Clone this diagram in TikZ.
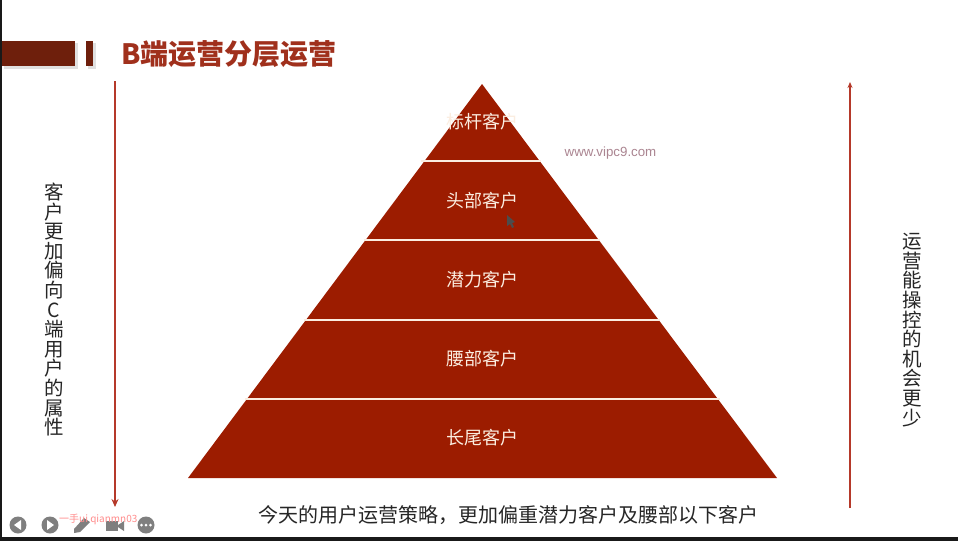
\documentclass[tikz,border=0pt]{standalone}
\usepackage{fontspec}
\setmainfont{Noto Sans CJK SC}
\newfontfamily\latinf{Liberation Sans}
\definecolor{pyr}{HTML}{9C1C00}
\definecolor{barc}{HTML}{6E1F0C}
\definecolor{titlec}{HTML}{A0301C}
\definecolor{arrc}{HTML}{B5392A}
\definecolor{band}{HTML}{FBEDE0}
\definecolor{icon}{HTML}{7F7F7F}
\usetikzlibrary{arrows.meta}
\tikzset{
  lvl/.style={text=band,font=\fontsize{18}{20}\selectfont,inner sep=0pt},
  sep/.style={band,line width=2pt},
  side/.style={text=black!85,font=\fontsize{19.5}{19.6}\selectfont,align=center,inner sep=0pt},
  longarrow/.style={arrc,line width=1.4pt,-{Stealth[length=8pt,width=7pt]}},
  shortarrow/.style={arrc,line width=1.4pt,-{Stealth[length=6pt,width=5pt]}},
  ico/.style={circle,fill=icon,minimum size=17pt,inner sep=0pt},
}
\begin{document}
\begin{tikzpicture}[x=1pt,y=-1pt]
\useasboundingbox (0,0) rectangle (958,541);
\fill[white] (0,0) rectangle (958,541);
\fill[black!90] (0,0) rectangle (2,541);
\fill[black!90] (0,537) rectangle (958,541);
% header
\fill[black!12] (4,43) rectangle (78,69);
\fill[black!12] (88,43) rectangle (96,69);
\fill[barc] (2,41) rectangle (75,66);
\fill[barc] (86,41) rectangle (93,66);
\node[text=titlec,font=\fontsize{28}{32}\selectfont\bfseries,anchor=west,inner sep=0pt] (title) at (121,54.5) {B端运营分层运营};
% pyramid
\fill[pyr] (482,84) -- (777,478) -- (188,478) -- cycle;
\coordinate (l1) at (421,161); \coordinate (r1) at (541,161);
\coordinate (l2) at (364,240); \coordinate (r2) at (600,240);
\coordinate (l3) at (304,320); \coordinate (r3) at (660,320);
\coordinate (l4) at (245,399); \coordinate (r4) at (720,399);
\draw[sep] (l1) -- (r1);
\draw[sep] (l2) -- (r2);
\draw[sep] (l3) -- (r3);
\draw[sep] (l4) -- (r4);
\node[lvl] (a) at (482,121.5) {标杆客户};
\node[lvl] (b) at (482,200.5) {头部客户};
\node[lvl] (c) at (482,279.5) {潜力客户};
\node[lvl] (d) at (482,358.5) {腰部客户};
\node[lvl] (e) at (482,437.5) {长尾客户};
% arrows
\coordinate (lt) at (115,81); \coordinate (lb) at (115,507);
\coordinate (rb) at (850,508); \coordinate (rt) at (850,82);
\draw[longarrow] (lt) -- (lb);
\draw[shortarrow] (rb) -- (rt);
\node[side] (ltext) at (54,309.5) {客\\户\\更\\加\\偏\\向\\C\\端\\用\\户\\的\\属\\性};
\node[side] (rtext) at (912,330) {运\\营\\能\\操\\控\\的\\机\\会\\更\\少};
\node[text=black!85,font=\fontsize{20}{24}\selectfont,inner sep=0pt] (cap) at (508,515.5) {今天的用户运营策略，更加偏重潜力客户及腰部以下客户};
% watermark
\node[text=black!35!white!80!purple,font=\latinf\fontsize{13.3}{15}\selectfont,inner sep=0pt] (wm) at (610.5,153.5) {www.vipc9.com};
% cursor
\fill[black!70] (507,215) -- (507,226) -- (510,224) -- (512,228) -- (514,227) -- (512,223) -- (515,222) -- cycle;
% toolbar
\node[ico] (i1) at (18,525) {};
\fill[white] (21,520) -- (21,530) -- (14,525) -- cycle;
\node[ico] (i2) at (50,525) {};
\fill[white] (47,520) -- (47,530) -- (54,525) -- cycle;
\fill[icon] (74,529) -- (84,518) -- (90,522) -- (80,532) -- (74,533) -- cycle;
\fill[icon] (106,521) rectangle (118,531);
\fill[icon] (118,525) -- (124,521) -- (124,531) -- (118,527) -- cycle;
\node[ico] (i5) at (146,525) {};
\foreach \x in {141.5,146,150.5} \fill[white] (\x,525) circle (1.5pt);
\node[text=red!45,font=\fontsize{10}{12}\selectfont,anchor=west,inner sep=0pt] (wm2) at (59,519) {一手ui qianmn03};
\end{tikzpicture}
\end{document}
